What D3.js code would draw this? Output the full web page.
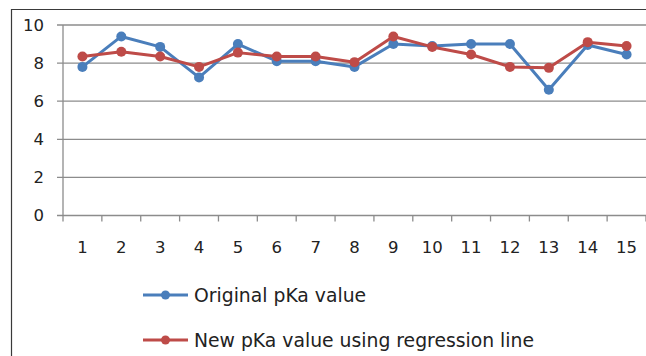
<!DOCTYPE html>
<html>
<head>
<meta charset="utf-8">
<script src="https://cdn.jsdelivr.net/npm/d3@7"></script>
<style>
  html, body { margin: 0; padding: 0; background: #fff; }
  svg { display: block; }
  text { font-family: "DejaVu Sans", "Noto Sans", sans-serif; }
</style>
</head>
<body>
<svg id="chart" width="646" height="356"></svg>
<script>
// Sample numbers 1..15
const categories = [1, 2, 3, 4, 5, 6, 7, 8, 9, 10, 11, 12, 13, 14, 15];
// Original pKa values
const originalPka = [7.8, 9.4, 8.85, 7.25, 9.0, 8.1, 8.1, 7.8, 9.0, 8.9, 9.0, 9.0, 6.6, 8.95, 8.45];
// pKa values recomputed from the regression line
const regressionPka = [8.35, 8.6, 8.35, 7.8, 8.55, 8.35, 8.35, 8.05, 9.4, 8.85, 8.45, 7.8, 7.75, 9.1, 8.9];
const yTicks = [0, 2, 4, 6, 8, 10];
const seriesNames = ["Original pKa value", "New pKa value using regression line"];
const seriesColors = ["#4a7ebb", "#be4b48"];

const svg = d3.select("#chart");

// Outer frame (only top and left edges fall inside the view)
svg.append("path")
  .attr("d", "M11.5,356 V9.5 H646")
  .attr("fill", "none")
  .attr("stroke", "#3a3a3a")
  .attr("stroke-width", 1.2);

const plot = { left: 63, right: 646, top: 25, bottom: 215.5 };

const x = d3.scaleBand().domain(categories).range([plot.left, plot.right]);
const y = d3.scaleLinear().domain([0, 10]).range([plot.bottom, plot.top]);

// Horizontal gridlines with small ticks left of the axis
const gy = svg.append("g");
gy.selectAll("line.grid").data(yTicks).join("line")
  .attr("class", "grid")
  .attr("x1", plot.left - 6).attr("x2", plot.right)
  .attr("y1", d => y(d)).attr("y2", d => y(d))
  .attr("stroke", "#8c8c8c").attr("stroke-width", 1.3);

gy.selectAll("text").data(yTicks).join("text")
  .attr("x", 44).attr("y", d => y(d))
  .attr("dy", "0.36em")
  .attr("text-anchor", "end")
  .attr("font-size", 16.5)
  .attr("fill", "#222")
  .text(d => d);

// Vertical axis line
svg.append("line")
  .attr("x1", plot.left).attr("x2", plot.left)
  .attr("y1", plot.top).attr("y2", plot.bottom)
  .attr("stroke", "#8c8c8c").attr("stroke-width", 1.3);

// Category ticks between bands
const bandEdges = categories.map(c => x(c)).concat([x(categories[categories.length - 1]) + x.bandwidth()]);
svg.append("g").selectAll("line").data(bandEdges).join("line")
  .attr("x1", d => d).attr("x2", d => d)
  .attr("y1", plot.bottom).attr("y2", plot.bottom + 6)
  .attr("stroke", "#8c8c8c").attr("stroke-width", 1.3);

svg.append("g").selectAll("text").data(categories).join("text")
  .attr("x", d => x(d) + x.bandwidth() / 2)
  .attr("y", 253)
  .attr("text-anchor", "middle")
  .attr("font-size", 16.5)
  .attr("fill", "#222")
  .text(d => d);

// Series lines and markers
const line = d3.line()
  .x((d, i) => x(categories[i]) + x.bandwidth() / 2)
  .y(d => y(d));

[originalPka, regressionPka].forEach((vals, si) => {
  const g = svg.append("g");
  g.append("path")
    .attr("d", line(vals))
    .attr("fill", "none")
    .attr("stroke", seriesColors[si])
    .attr("stroke-width", 3)
    .attr("stroke-linejoin", "round");
  g.selectAll("circle").data(vals).join("circle")
    .attr("cx", (d, i) => x(categories[i]) + x.bandwidth() / 2)
    .attr("cy", d => y(d))
    .attr("r", 5)
    .attr("fill", seriesColors[si]);
});

// Legend
const legend = svg.append("g");
const legendY = [295, 340];
seriesNames.forEach((name, i) => {
  const row = legend.append("g").attr("transform", `translate(0,${legendY[i]})`);
  row.append("line")
    .attr("x1", 143).attr("x2", 188)
    .attr("stroke", seriesColors[i]).attr("stroke-width", 3);
  row.append("circle").attr("cx", 165.5).attr("cy", 0).attr("r", 4.5).attr("fill", seriesColors[i]);
  row.append("text")
    .attr("x", 194).attr("dy", "0.36em")
    .attr("font-size", 18.8)
    .attr("fill", "#222")
    .text(name);
});
</script>
</body>
</html>
